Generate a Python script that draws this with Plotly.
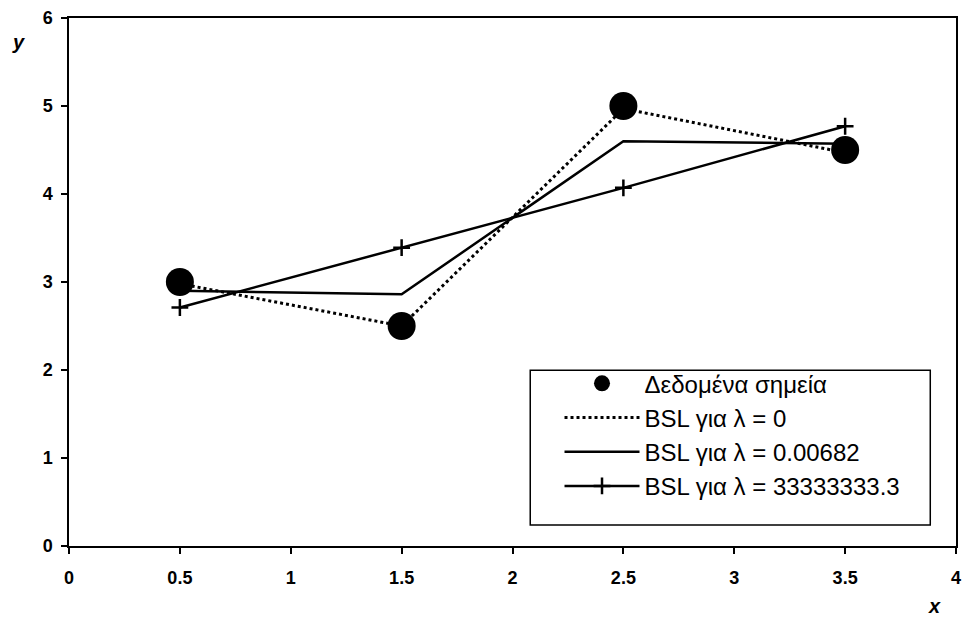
import plotly.graph_objects as go

x_vals = [0.5, 1.5, 2.5, 3.5]
y_data = [3.0, 2.5, 5.0, 4.5]
y_lam0 = [2.98, 2.5, 4.97, 4.47]
y_lam1 = [2.9, 2.86, 4.6, 4.57]
y_lam2 = [2.71, 3.39, 4.07, 4.77]

name_data = "Δεδομένα σημεία"
name_l0 = "BSL για λ = 0"
name_l1 = "BSL για λ = 0.00682"
name_l2 = "BSL για λ = 33333333.3"

x_ticks = [0, 0.5, 1, 1.5, 2, 2.5, 3, 3.5, 4]
x_ticktext = ["0", "0.5", "1", "1.5", "2", "2.5", "3", "3.5", "4"]
y_ticks = [0, 1, 2, 3, 4, 5, 6]

fig = go.Figure()
fig.add_trace(go.Scatter(x=x_vals, y=y_lam0, mode="lines", name=name_l0, legendrank=2,
                         line=dict(color="black", width=3, dash="dot")))
fig.add_trace(go.Scatter(x=x_vals, y=y_lam1, mode="lines", name=name_l1, legendrank=3,
                         line=dict(color="black", width=2.5)))
fig.add_trace(go.Scatter(x=x_vals, y=y_lam2, mode="lines+markers", name=name_l2, legendrank=4,
                         line=dict(color="black", width=2.5),
                         marker=dict(symbol="cross-thin", size=12, color="black",
                                     line=dict(color="black", width=2.5))))
fig.add_trace(go.Scatter(x=x_vals, y=y_data, mode="markers", name=name_data, legendrank=1,
                         marker=dict(symbol="circle", size=28, color="black")))

fig.update_layout(
    width=964, height=619,
    margin=dict(l=69, r=3, t=18, b=73),
    paper_bgcolor="white", plot_bgcolor="white",
    font=dict(family="Liberation Sans, Arial, sans-serif", color="black"),
    showlegend=True,
    legend=dict(x=0.553, y=0.35, xanchor="left", yanchor="top",
                bgcolor="rgba(0,0,0,0)", borderwidth=0,
                font=dict(size=24, color="black"), itemwidth=75,
                traceorder="normal"),
    shapes=[dict(type="rect", xref="paper", yref="paper", x0=0.520, x1=0.971,
                 y0=0.040, y1=0.333, line=dict(color="black", width=1.5),
                 fillcolor="white", layer="below")],
)
fig.update_xaxes(range=[0, 4], tickvals=x_ticks, ticktext=x_ticktext,
                 showgrid=False, zeroline=False, showline=True, linecolor="black",
                 linewidth=1.5, mirror=True, ticks="outside", ticklen=6, tickwidth=1.5,
                 tickcolor="black", ticklabelstandoff=9, ticklabeloverflow="allow",
                 tickfont=dict(size=18, family="Liberation Sans, Arial", weight="bold"))
fig.update_yaxes(range=[0, 6], tickvals=y_ticks,
                 showgrid=False, zeroline=False, showline=True, linecolor="black",
                 linewidth=1.5, mirror=True, ticks="outside", ticklen=6, tickwidth=1.5,
                 tickcolor="black", ticklabelstandoff=5, ticklabeloverflow="allow",
                 tickfont=dict(size=18, family="Liberation Sans, Arial", weight="bold"))

fig.add_annotation(text="<b><i>y</i></b>", xref="paper", yref="paper", x=-0.066, y=0.98,
                   showarrow=False, font=dict(size=20, family="Liberation Sans, Arial"))
fig.add_annotation(text="<b><i>x</i></b>", xref="paper", yref="paper", x=0.976, y=-0.114,
                   xanchor="center", yanchor="middle", showarrow=False,
                   font=dict(size=20, family="Liberation Sans, Arial"))

fig.write_html("out.html")
